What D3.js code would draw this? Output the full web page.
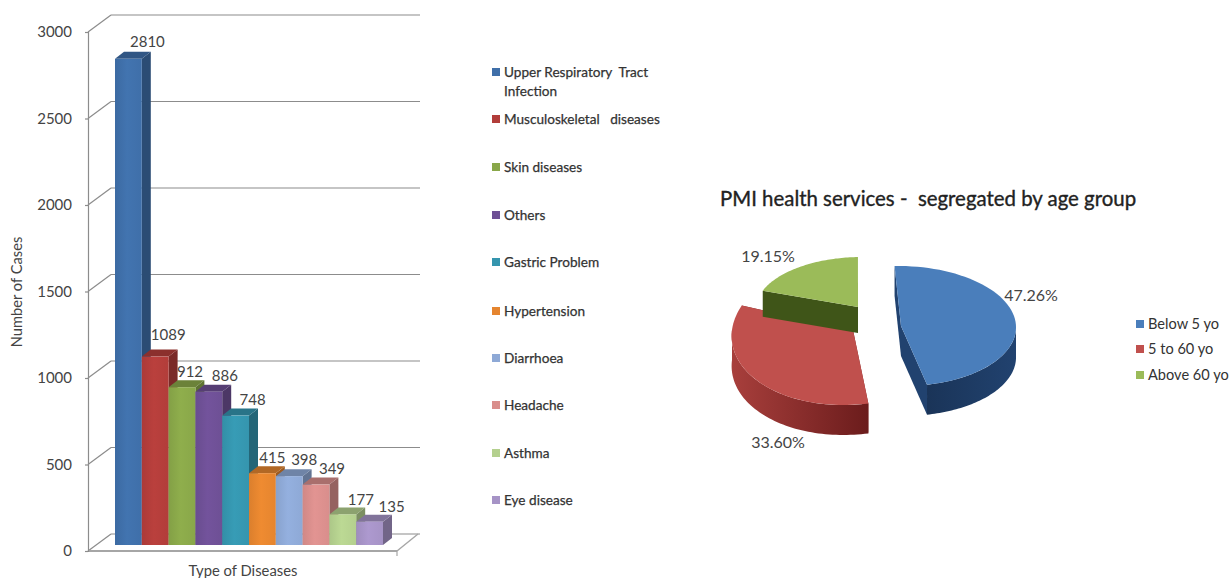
<!DOCTYPE html>
<html>
<head>
<meta charset="utf-8">
<script src="https://cdn.jsdelivr.net/npm/d3@7"></script>
<style>
html,body{margin:0;padding:0;background:#fff}
svg{display:block}
text{font-family:Lato,"Open Sans",sans-serif}
</style>
</head>
<body>
<svg id="chart" width="1230" height="578"></svg>
<script>
// Disease case counts
const diseases = ["Upper Respiratory Tract Infection","Musculoskeletal diseases","Skin diseases","Others","Gastric Problem","Hypertension","Diarrhoea","Headache","Asthma","Eye disease"];
const cases = [2810,1089,912,886,748,415,398,349,177,135];
const barColors = ["#3f6fa9","#b23d3a","#89a749","#6e5095","#3595ae","#e5852f","#8ea9d6","#d98e8c","#b4d08e","#a693c6"];
const labelShiftX = [19,13,8,16,17,10,15,16,18,22];
const labelShiftY = [-17,-22,-15,-16,-16,-15,-16,-16,-15,-15];
const yTicks = [0,500,1000,1500,2000,2500,3000];

// Age group shares
const ageGroups = ["Below 5 yo","5 to 60 yo","Above 60 yo"];
const agePercents = [47.26,33.60,19.15];
const ageColors = ["#4a7ebb","#c0504d","#9bbb59"];

const svg = d3.select("#chart");
const defs = svg.append("defs");
const textCol = "#444";

// --- 3D column chart ---
const depthX = 23, depthY = 17;      // wall offset
const barDX = 9, barDY = 7;          // column depth
const y = d3.scaleLinear().domain([0,3000]).range([551,32]);
const x = d3.scaleBand().domain(diseases).range([115,383]).padding(0);
const barBase = 6;                   // columns stand slightly behind the front floor edge

const g = svg.append("g");
const gridCol = "#8c8c8c";
yTicks.forEach(t => {
  const yy = y(t);
  g.append("line").attr("x1",88).attr("y1",yy).attr("x2",88+depthX).attr("y2",yy-depthY)
    .attr("stroke",gridCol).attr("stroke-width",1.2);
  g.append("line").attr("x1",88+depthX).attr("y1",yy-depthY).attr("x2",420).attr("y2",yy-depthY)
    .attr("stroke",gridCol).attr("stroke-width",1.2);
});
// floor
g.append("line").attr("x1",88).attr("y1",y(0)).attr("x2",397).attr("y2",y(0)).attr("stroke","#a6a6a6").attr("stroke-width",2);
g.append("line").attr("x1",397).attr("y1",y(0)).attr("x2",418).attr("y2",y(0)-depthY).attr("stroke","#a6a6a6").attr("stroke-width",1.4);
g.append("line").attr("x1",397).attr("y1",y(0)).attr("x2",397).attr("y2",y(0)+5).attr("stroke","#a6a6a6").attr("stroke-width",1.2);

// value axis
const axis = g.append("g").attr("transform","translate(88,0)")
  .call(d3.axisLeft(y).tickValues(yTicks).tickSize(3).tickPadding(13).tickFormat(d3.format("d")));
axis.selectAll("path,line").attr("stroke",gridCol).attr("stroke-width",1.2);
axis.selectAll("text").attr("font-size",15).attr("fill",textCol).attr("font-family","Lato");

// columns, painted left to right so each overlaps its neighbour's side
barColors.forEach((c,i) => {
  const grad = defs.append("linearGradient").attr("id","bar"+i);
  grad.append("stop").attr("offset","0").attr("stop-color",d3.color(c).darker(0.12));
  grad.append("stop").attr("offset","0.45").attr("stop-color",d3.color(c).brighter(0.12));
  grad.append("stop").attr("offset","1").attr("stop-color",c);
});
const bars = g.selectAll("g.bar").data(diseases).join("g").attr("class","bar");
const base = y(0) - barBase;
bars.each(function(d,i){
  const sel = d3.select(this);
  const x0 = x(d), w = x.bandwidth(), top = y(cases[i]) - barBase;
  const pts = a => a.map(p => p.join(",")).join(" ");
  sel.append("polygon").attr("points",pts([[x0+w,top],[x0+w+barDX,top-barDY],[x0+w+barDX,base-barDY],[x0+w,base]]))
    .attr("fill",d3.color(barColors[i]).darker(1.05));
  sel.append("polygon").attr("points",pts([[x0,top],[x0+barDX,top-barDY],[x0+w+barDX,top-barDY],[x0+w,top]]))
    .attr("fill",d3.color(barColors[i]).darker(0.7));
  sel.append("rect").attr("x",x0).attr("y",top).attr("width",w).attr("height",base-top).attr("fill",`url(#bar${i})`);
});
// value labels go on last so no column hides them
bars.append("text")
  .attr("x",(d,i) => x(d)+x.bandwidth()/2+labelShiftX[i])
  .attr("y",(d,i) => y(cases[i])-barBase+labelShiftY[i])
  .attr("dy","0.35em").attr("text-anchor","middle")
  .attr("font-size",15).attr("fill",textCol)
  .text((d,i) => cases[i]);

g.append("text").attr("x",243).attr("y",576).attr("text-anchor","middle").attr("font-size",14.8).attr("fill",textCol).text("Type of Diseases");
g.append("text").attr("transform","translate(22,292) rotate(-90)").attr("text-anchor","middle").attr("font-size",14.7).attr("fill",textCol).text("Number of Cases");

// column legend
const legendRows = [72,119,167,215,262,311,358,405,453,500];
const legendLines = [["Upper Respiratory  Tract","Infection"],["Musculoskeletal   diseases"]];
const leg = svg.append("g").selectAll("g").data(diseases).join("g")
  .attr("transform",(d,i) => `translate(492,${legendRows[i]})`);
leg.append("rect").attr("x",0).attr("y",-4).attr("width",8).attr("height",8).attr("fill",(d,i) => barColors[i]);
leg.each(function(d,i){
  const lines = legendLines[i] || [d];
  const t = d3.select(this).append("text").attr("x",12).attr("y",0)
    .attr("font-size",13.6).attr("fill","#333").attr("stroke","#333").attr("stroke-width",0.25).style("white-space","pre");
  lines.forEach((l,j) => t.append("tspan").attr("x",12).attr("dy",j ? 19 : "0.35em").text(l));
});

// --- Exploded 3D pie ---
const rad = Math.PI/180;
const pieGen = d3.pie().sort(null).startAngle(-2*rad).endAngle(358*rad);
const arcsData = pieGen(agePercents);
// each wedge: apex, radii, depth and lean of its projected ellipse
const wedgeApex = [[901,326],[853,330],[858,307]];
const wedgeRadii = [[115,60],[121,75],[102,50]];
const wedgeDepth = [30,30,26];
const wedgeLean = [0.04,-0.13,-0.07];

const pieG = svg.append("g");
function project(i,a){
  const [cx,cy] = wedgeApex[i], [rx,ry] = wedgeRadii[i];
  const dy = -ry*Math.cos(a);
  return [cx + rx*Math.sin(a) + wedgeLean[i]*dy, cy + dy];
}
function arcPoints(i,a0,a1){
  return d3.range(0,61).map(k => project(i,a0+(a1-a0)*k/60));
}
const lineGen = d3.line();

// rim shading for the blue and red wedges
const blueRim = defs.append("linearGradient").attr("id","wall0");
blueRim.append("stop").attr("offset","0").attr("stop-color","#1a3458");
blueRim.append("stop").attr("offset","1").attr("stop-color","#21426f");
const redRim = defs.append("linearGradient").attr("id","wall1");
redRim.append("stop").attr("offset","0").attr("stop-color","#a83f3c");
redRim.append("stop").attr("offset","1").attr("stop-color","#6b1c1c");
const faceColors = ["#21426f","#7a2422","#3f5518"];

// painted red, green, blue so the green wedge's dark face sits over the red apex
[1,2,0].forEach(i => {
  const s = arcsData[i], d = wedgeDepth[i], apex = wedgeApex[i];
  const p0 = project(i,s.startAngle), p1 = project(i,s.endAngle);
  const down = p => [p[0],p[1]+d];
  // radial faces
  [p0,p1].forEach(p => {
    pieG.append("path").attr("d",lineGen([apex,p,down(p),down(apex)])+"Z").attr("fill",faceColors[i]);
  });
  // rim, only where it faces the viewer
  const lo = Math.max(s.startAngle,90*rad), hi = Math.min(s.endAngle,270*rad);
  if (hi > lo) {
    const rim = arcPoints(i,lo,hi);
    pieG.append("path").attr("d",lineGen(rim.concat(rim.slice().reverse().map(down)))+"Z").attr("fill",`url(#wall${i})`);
  }
  // top face
  const top = [apex].concat(arcPoints(i,s.startAngle,s.endAngle));
  pieG.append("path").attr("d",lineGen(top)+"Z").attr("fill",ageColors[i]);
});

const pieLabels = [[1031,295],[778,442],[768,256]];
pieG.selectAll("text.pct").data(agePercents).join("text").attr("class","pct")
  .attr("x",(d,i) => pieLabels[i][0]).attr("y",(d,i) => pieLabels[i][1])
  .attr("dy","0.35em").attr("text-anchor","middle").attr("font-size",16).attr("fill",textCol)
  .text(d => d3.format(".2f")(d)+"%");

svg.append("text").attr("x",720).attr("y",206).attr("font-size",20.4).attr("fill","#222")
  .attr("stroke","#222").attr("stroke-width",0.35).style("white-space","pre")
  .text("PMI health services -  segregated by age group");

const ageRows = [324,349,375];
const ageLeg = svg.append("g").selectAll("g").data(ageGroups).join("g")
  .attr("transform",(d,i) => `translate(1136,${ageRows[i]})`);
ageLeg.append("rect").attr("x",0).attr("y",-4).attr("width",8).attr("height",8).attr("fill",(d,i) => ageColors[i]);
ageLeg.append("text").attr("x",12).attr("dy","0.35em").attr("font-size",14.6).attr("fill","#333").text(d => d);
</script>
</body>
</html>
